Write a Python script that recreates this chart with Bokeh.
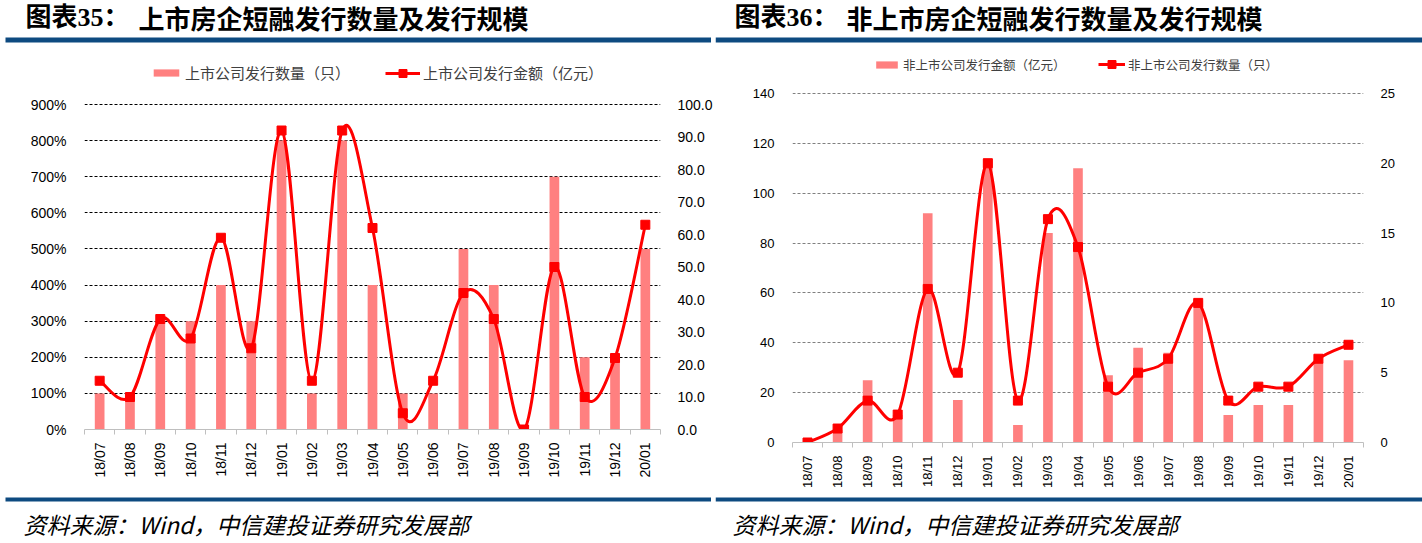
import numpy as np
from bokeh.plotting import figure
from bokeh.models import (Range1d, LinearAxis, FixedTicker, NumeralTickFormatter,
                          Legend, LegendItem)
from bokeh.core.properties import value
from bokeh.layouts import row, column
from bokeh.embed import file_html
from bokeh.resources import INLINE

# ---------------- data ----------------
months = ["18/07", "18/08", "18/09", "18/10", "18/11", "18/12", "19/01", "19/02", "19/03",
          "19/04", "19/05", "19/06", "19/07", "19/08", "19/09", "19/10", "19/11", "19/12", "20/01"]

# chart 35 (listed)
listed_count = [1, 1, 3, 3, 4, 3, 8, 1, 8, 4, 1, 1, 5, 4, 0, 7, 2, 2, 5]          # left axis, shown as %
listed_amount = [15, 10, 34, 28, 59, 25, 92, 15, 92, 62, 5, 15, 42, 34, 0, 50, 10, 22, 63]  # right axis
left35_ticks = [0, 1, 2, 3, 4, 5, 6, 7, 8, 9]
right35_ticks = [0, 10, 20, 30, 40, 50, 60, 70, 80, 90, 100]

# chart 36 (unlisted)
unlisted_amount = [0, 5, 25, 11, 92, 17, 114, 7, 84, 110, 27, 38, 36, 57, 11, 15, 15, 32, 33]  # left axis
unlisted_count = [0, 1, 3, 2, 11, 5, 20, 3, 16, 14, 4, 5, 6, 10, 3, 4, 4, 6, 7]              # right axis
left36_ticks = [0, 20, 40, 60, 80, 100, 120, 140]
right36_ticks = [0, 5, 10, 15, 20, 25]

label35 = "图表35："
title35 = "上市房企短融发行数量及发行规模"
label36 = "图表36："
title36 = "非上市房企短融发行数量及发行规模"
legend35 = ["上市公司发行数量（只）", "上市公司发行金额（亿元）"]
legend36 = ["非上市公司发行金额（亿元）", "非上市公司发行数量（只）"]
source_text = "资料来源：Wind，中信建投证券研究发展部"

BAR = "#ff8080"
LINE = "#ff0000"
BLUE = "#0d4a80"
FONT = "Liberation Sans"
CJK = "Noto Sans CJK SC"
SERIF_CJK = "'Liberation Serif', 'Noto Sans CJK SC'"
W = 711
HEAD_H = 48
FOOT_H = 50
CHART_H = 543 - HEAD_H - FOOT_H


def smooth_segments(xs, ys):
    n = len(xs)
    out = dict(x0=[], y0=[], x1=[], y1=[], cx0=[], cy0=[], cx1=[], cy1=[])
    for i in range(n - 1):
        a = i - 1 if i > 0 else i
        d = i + 2 if i + 2 < n else i + 1
        out["x0"].append(xs[i]); out["y0"].append(ys[i])
        out["x1"].append(xs[i + 1]); out["y1"].append(ys[i + 1])
        out["cx0"].append(xs[i] + (xs[i + 1] - xs[a]) / 6.0)
        out["cy0"].append(ys[i] + (ys[i + 1] - ys[a]) / 6.0)
        out["cx1"].append(xs[i + 1] - (xs[d] - xs[i]) / 6.0)
        out["cy1"].append(ys[i + 1] - (ys[d] - ys[i]) / 6.0)
    return out


def blank_fig(h):
    f = figure(frame_width=W, frame_height=h, x_range=Range1d(0, W), y_range=Range1d(h, 0),
               output_backend="svg", toolbar_location=None, min_border=0,
               min_border_left=0, min_border_right=0, min_border_top=0, min_border_bottom=0,
               x_axis_location=None, y_axis_location=None,
               background_fill_color="white", border_fill_color="white", outline_line_color=None)
    f.grid.visible = False
    return f


def header(label, title, lx, tx, rx0, rx1):
    f = blank_fig(HEAD_H)
    f.text(x=[lx], y=[17], text=[label], text_font=value(SERIF_CJK), text_font_style="bold",
           text_font_size="26px", text_color="#000000", text_baseline="middle")
    f.text(x=[tx], y=[17], text=[title], text_font=value(CJK), text_font_style="bold",
           text_font_size="26px", text_color="#000000", text_baseline="middle")
    f.quad(left=[rx0], right=[rx1], top=[37], bottom=[42], color=BLUE, line_color=None)
    return f


def footer(fx, rx0, rx1):
    f = blank_fig(FOOT_H)
    f.quad(left=[rx0], right=[rx1], top=[4], bottom=[8], color=BLUE, line_color=None)
    f.text(x=[fx], y=[30], text=[source_text], text_font=value(CJK), text_font_style="italic",
           text_font_size="23px", text_color="#000000", text_baseline="middle")
    return f


def make_chart(fw, bl, br, axis_top, axis_bottom, frame_top, bars, line, lticks, rticks,
               lfmt, rfmt, grid_color, tick_size, legend_labels, legend_x, legend_x2, legend_cy,
               glyph_w, glyph_w2, legend_size):
    xs = list(range(len(months)))
    fh = axis_bottom - frame_top
    span = axis_bottom - axis_top
    bt = frame_top - HEAD_H
    bb = HEAD_H + CHART_H - axis_bottom
    lmax = lticks[-1] * fh / span
    rmax = rticks[-1] * fh / span
    p = figure(frame_width=fw, frame_height=fh, min_border=0,
               min_border_left=bl, min_border_right=br, min_border_top=bt, min_border_bottom=bb,
               x_range=Range1d(-0.5, len(months) - 0.5),
               y_range=Range1d(lticks[0], lmax),
               output_backend="svg", toolbar_location=None,
               background_fill_color="white", border_fill_color="white", outline_line_color=None)
    p.extra_y_ranges = {"r": Range1d(rticks[0], rmax)}

    vb = p.vbar(x=xs, top=bars, width=0.32, color=BAR, line_color=None)
    segs = smooth_segments(xs, line)
    p.bezier(source=segs, x0="x0", y0="y0", x1="x1", y1="y1", cx0="cx0", cy0="cy0",
             cx1="cx1", cy1="cy1", line_color=LINE, line_width=3, y_range_name="r")
    sc = p.scatter(xs, line, marker="square", size=9, color=LINE, y_range_name="r")
    ln = p.line(xs, [np.nan] * len(xs), line_color=LINE, line_width=3, y_range_name="r")

    xa = p.xaxis[0]
    xa.ticker = FixedTicker(ticks=xs, minor_ticks=[i - 0.5 for i in range(len(months) + 1)])
    xa.major_label_overrides = {i: m for i, m in enumerate(months)}
    xa.major_label_orientation = np.pi / 2
    xa.major_tick_line_color = None
    xa.major_tick_out = 0
    xa.minor_tick_out = 5
    xa.minor_tick_in = 0
    xa.minor_tick_line_color = "#bfbfbf"
    xa.axis_line_color = "#bfbfbf"
    xa.major_label_standoff = 8
    xa.major_label_text_font = FONT
    xa.major_label_text_font_size = tick_size
    xa.major_label_text_color = "#000000"

    ya = p.yaxis[0]
    ya.ticker = FixedTicker(ticks=lticks)
    ya.formatter = lfmt
    ya.axis_line_color = None
    ya.major_tick_line_color = None
    ya.minor_tick_line_color = None
    ya.major_label_standoff = 12
    ya.major_label_text_font = FONT
    ya.major_label_text_font_size = tick_size
    ya.major_label_text_color = "#000000"

    ra = LinearAxis(y_range_name="r", ticker=FixedTicker(ticks=rticks), formatter=rfmt)
    ra.axis_line_color = None
    ra.major_tick_line_color = None
    ra.minor_tick_line_color = None
    ra.major_label_standoff = 11
    ra.major_label_text_font = FONT
    ra.major_label_text_font_size = tick_size
    ra.major_label_text_color = "#000000"
    p.add_layout(ra, "right")

    p.xgrid.grid_line_color = None
    p.ygrid.ticker = FixedTicker(ticks=lticks[1:])
    p.ygrid.grid_line_color = grid_color
    p.ygrid.grid_line_dash = "3 2"
    p.ygrid.grid_line_width = 1

    common = dict(orientation="horizontal", padding=0, margin=0, border_line_color=None,
                  background_fill_alpha=0, label_standoff=3, label_height=20,
                  label_text_font=CJK, label_text_font_size=legend_size,
                  label_text_color="#404040")
    lg1 = Legend(items=[LegendItem(label=legend_labels[0], renderers=[vb])],
                 location=(legend_x, axis_bottom - legend_cy - 10), glyph_height=9,
                 glyph_width=glyph_w, **common)
    lg2 = Legend(items=[LegendItem(label=legend_labels[1], renderers=[ln, sc])],
                 location=(legend_x2, axis_bottom - legend_cy - 10), glyph_height=20,
                 glyph_width=glyph_w2, **common)
    p.add_layout(lg1, "center")
    p.add_layout(lg2, "center")
    return p


c35 = make_chart(576, 84, 51, 104, 429, 54, listed_count, listed_amount,
                 left35_ticks, right35_ticks, NumeralTickFormatter(format="0%"),
                 NumeralTickFormatter(format="0.0"), "#000000", "14px",
                 legend35, 66, 301, 73, 32, 35, "15px")
c36 = make_chart(571, 77, 63, 93, 442, 48, unlisted_amount, unlisted_count,
                 left36_ticks, right36_ticks, NumeralTickFormatter(format="0"),
                 NumeralTickFormatter(format="0"), "#808080", "13px",
                 legend36, 81, 306, 64, 27, 27, "12.5px")

left = column(row(header(label35, title35, 25, 138, 5, W)), row(c35),
              row(footer(23, 5, W)), spacing=0)
right = column(row(header(label36, title36, 19, 131, 0, 707)), row(c36),
               row(footer(17, 0, 707)), spacing=0)
layout = row(left, right, spacing=0)
open("out.html", "w").write(file_html(layout, INLINE))
